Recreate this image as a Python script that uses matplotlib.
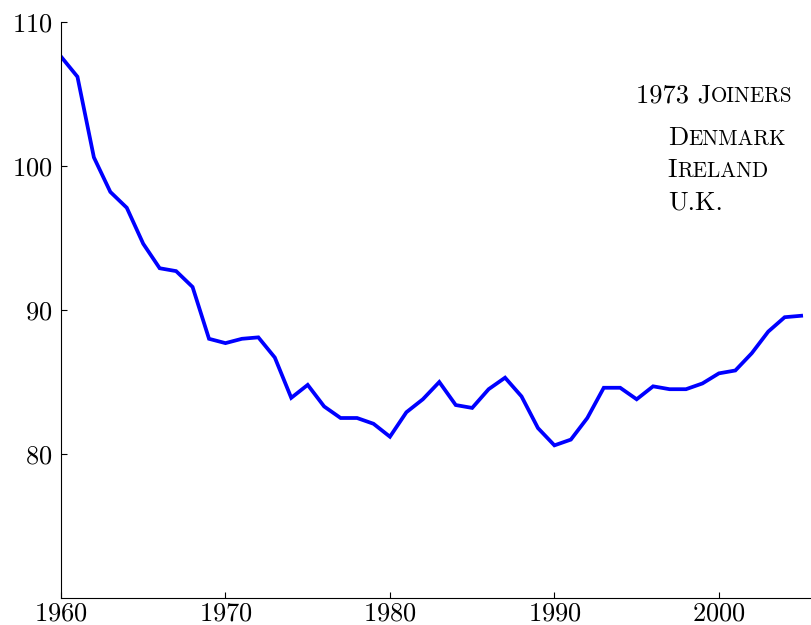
import matplotlib
matplotlib.use("Agg")
import matplotlib.pyplot as plt

plt.rcParams.update({
    'font.family': 'serif',
    'font.serif': ['cmr10', 'DejaVu Serif'],
    'mathtext.fontset': 'cm',
    'axes.formatter.use_mathtext': True,
    'axes.unicode_minus': False,
})

years = list(range(1960, 2006))
values = [107.6, 106.2, 100.6, 98.2, 97.1, 94.6, 92.9, 92.7, 91.6, 88.0,
          87.7, 88.0, 88.1, 86.7, 83.9, 84.8, 83.3, 82.5, 82.5, 82.1,
          81.2, 82.9, 83.8, 85.0, 83.4, 83.2, 84.5, 85.3, 84.0, 81.8,
          80.6, 81.0, 82.5, 84.6, 84.6, 83.8, 84.7, 84.5, 84.5, 84.9,
          85.6, 85.8, 87.0, 88.5, 89.5, 89.6]
xticks = [1960, 1970, 1980, 1990, 2000]
yticks = [80, 90, 100, 110]

# legend-ish note: (leading capital, small-caps rest)
title_parts = ("1973 J", "OINERS")
members = [("D", "ENMARK"), ("I", "RELAND"), ("U.K.", "")]

fig = plt.figure(figsize=(8.11, 6.25), dpi=100)
ax = fig.add_axes([0.0752, 0.0432, 0.9248, 0.9216])

ax.plot(years, values, color='#0000ff', linewidth=2.7, solid_joinstyle='miter')

ax.set_xlim(1960, 2005.6)
ax.set_ylim(70, 110)
ax.set_xticks(xticks)
ax.set_yticks(yticks)
ax.spines['top'].set_visible(False)
ax.spines['right'].set_visible(False)
for s in ('left', 'bottom'):
    ax.spines[s].set_linewidth(0.8)
ax.tick_params(direction='in', length=4, width=0.8, labelsize=19)
ax.tick_params(axis='y', pad=6)
ax.tick_params(axis='x', pad=3)


def small_caps(x, y, big, small, size=19):
    t = ax.text(x, y, big, transform=ax.transAxes, fontsize=size,
                ha='left', va='baseline')
    if small:
        ax.annotate(small, xy=(1, y), xycoords=(t, ax.transAxes),
                    fontsize=size * 0.8, ha='left', va='baseline')


small_caps(0.7667, 0.861, *title_parts)
line_y = [0.786, 0.731, 0.674]
for (big, small), yy in zip(members, line_y):
    small_caps(0.809, yy, big, small)

fig.savefig('out.png', dpi=100)
